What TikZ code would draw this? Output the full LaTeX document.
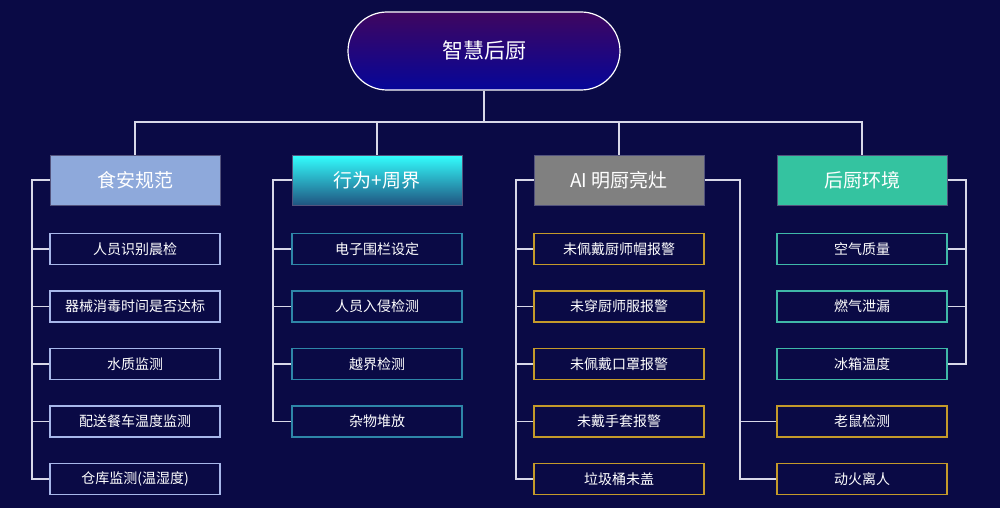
\documentclass[tikz,border=0pt]{standalone}
\usepackage{fontspec}
\setmainfont{Noto Sans CJK SC}
\usetikzlibrary{positioning}
\definecolor{bg}{HTML}{0A0A45}
\definecolor{ln}{HTML}{D8D8E8}
\definecolor{c1}{HTML}{8EA9DB}
\definecolor{c1b}{HTML}{A7B7EA}
\definecolor{c2b}{HTML}{2E86A8}
\definecolor{c3}{HTML}{808080}
\definecolor{c3b}{HTML}{C49A2A}
\definecolor{c4}{HTML}{34C3A0}
\definecolor{c4b}{HTML}{3FB8A8}
\tikzset{
 box/.style={minimum width=170pt,minimum height=31pt,inner sep=0pt,text=white,font=\fontsize{14}{16}\selectfont,fill=bg,line width=1.8pt},
 head/.style={minimum width=170pt,minimum height=50pt,inner sep=0pt,text=white,font=\fontsize{19}{22}\selectfont,draw=bg!70!white,line width=1pt},
 conn/.style={draw=ln,line width=1.3pt}
}
\begin{document}
\begin{tikzpicture}[x=1pt,y=-1pt]
\fill[bg] (0,0) rectangle (1000,508);
\useasboundingbox (0,0) rectangle (1000,508);
\node[rounded corners=39pt,minimum width=272pt,minimum height=78pt,top color=violet!45!bg,bottom color=blue!45!bg,draw=white,line width=1.2pt,text=white,font=\fontsize{21}{24}\selectfont] (top) at (484,51) {智慧后厨};
\node[head,fill=c1] (h1) at (135,180) {食安规范};
\node[head,top color=cyan!80!white,bottom color=c2b!60!bg] (h2) at (377,180) {行为+周界};
\node[head,fill=c3] (h3) at (619,180) {AI 明厨亮灶};
\node[head,fill=c4] (h4) at (862,180) {后厨环境};
\coordinate (j) at (484,122);
\draw[conn] (top.south) -- (j);
\draw[conn] (h1.north) |- (j) -| (h4.north);
\draw[conn] (h2.north) -- (377,122);
\draw[conn] (h3.north) -- (619,122);
\foreach \t [count=\i] in {人员识别晨检,器械消毒时间是否达标,水质监测,配送餐车温度监测,仓库监测(温湿度)}{
 \node[box,draw=c1b] (a\i) at (135,{249+57.5*(\i-1)}) {\t};
 \draw[conn] (h1.west) -- (32,180) |- (a\i.west);}
\foreach \t [count=\i] in {电子围栏设定,人员入侵检测,越界检测,杂物堆放}{
 \node[box,draw=c2b] (b\i) at (377,{249+57.5*(\i-1)}) {\t};
 \draw[conn] (h2.west) -- (273,180) |- (b\i.west);}
\foreach \t [count=\i] in {未佩戴厨师帽报警,未穿厨师服报警,未佩戴口罩报警,未戴手套报警,垃圾桶未盖}{
 \node[box,draw=c3b] (c\i) at (619,{249+57.5*(\i-1)}) {\t};
 \draw[conn] (h3.west) -- (516,180) |- (c\i.west);}
\foreach \t [count=\i] in {空气质量,燃气泄漏,冰箱温度}{
 \node[box,draw=c4b] (d\i) at (862,{249+57.5*(\i-1)}) {\t};
 \draw[conn] (h4.east) -- (966,180) |- (d\i.east);}
\node[box,draw=c3b] (d4) at (862,421.5) {老鼠检测};
\node[box,draw=c3b] (d5) at (862,479) {动火离人};
\draw[conn] (h3.east) -- (740,180) |- (d4.west);
\draw[conn] (740,180) |- (d5.west);
\end{tikzpicture}
\end{document}
